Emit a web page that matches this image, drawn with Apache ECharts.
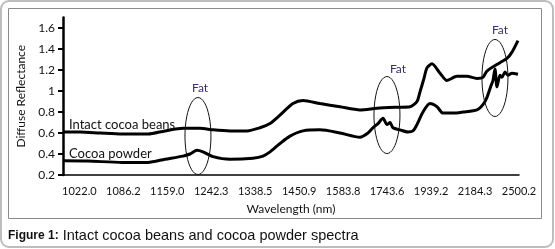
<!DOCTYPE html>
<html>
<head>
<meta charset="utf-8">
<script src="https://cdn.jsdelivr.net/npm/echarts@6/dist/echarts.min.js"></script>
<style>
  html, body { margin: 0; padding: 0; background: #fff; }
  #chart { width: 555px; height: 249px; }
</style>
</head>
<body>
<div id="chart"></div>
<script>
// x positions are wavenumbers (cm-1); the axis is even in wavenumber but labelled in nm
const tickLabelsNm = [1022.0, 1086.2, 1159.0, 1242.3, 1338.5, 1450.9, 1583.8, 1743.6, 1939.2, 2184.3, 2500.2]
const yTicks = [0.2, 0.4, 0.6, 0.8, 1, 1.2, 1.4, 1.6]

// Intact cocoa beans
const beansWn = [10000, 9776, 9513, 9224, 8882, 8658, 8421, 8197, 8026, 7803, 7579, 7408, 7276, 7145, 6974, 6842,
  6618, 6355, 6092, 5868, 5605, 5434, 5342, 5303, 5250, 5211, 5145, 5039, 4947, 4816, 4684, 4553, 4474, 4421,
  4250, 4158, 4092, 4013]
const beansR = [0.61, 0.61, 0.60, 0.59, 0.59, 0.62, 0.645, 0.645, 0.63, 0.62, 0.62, 0.65, 0.69, 0.77, 0.88, 0.91,
  0.88, 0.85, 0.82, 0.835, 0.845, 0.85, 0.90, 0.99, 1.12, 1.22, 1.26, 1.17, 1.10, 1.14, 1.14, 1.12, 1.13, 1.19,
  1.27, 1.31, 1.37, 1.48]

// Cocoa powder
const powderWn = [10000, 9671, 9224, 8882, 8658, 8421, 8329, 8237, 8158, 8026, 7803, 7500, 7368, 7276, 7145, 7013,
  6842, 6618, 6355, 6092, 5987, 5921, 5855, 5789, 5737, 5697, 5658, 5566, 5461, 5395, 5342, 5263, 5171, 5079,
  5000, 4868, 4737, 4553, 4474, 4421, 4368, 4342, 4316, 4289, 4250, 4224, 4184, 4145, 4092, 4013]
const powderR = [0.335, 0.333, 0.32, 0.32, 0.35, 0.38, 0.40, 0.435, 0.42, 0.375, 0.35, 0.36, 0.38, 0.42, 0.50, 0.57,
  0.62, 0.63, 0.60, 0.56, 0.60, 0.65, 0.69, 0.74, 0.68, 0.70, 0.65, 0.63, 0.61, 0.62, 0.68, 0.80, 0.88, 0.85,
  0.79, 0.79, 0.80, 0.82, 0.87, 0.94, 1.05, 1.10, 1.21, 1.04, 1.15, 1.13, 1.18, 1.15, 1.17, 1.16]

// "Fat" ellipses: centre and label position in data units
const fatWn = [8224, 5737, 4316]
const fatR = [0.571, 0.771, 1.124]
const fatLabelWn = [8197, 5592, 4250]
const fatLabelR = [1.029, 1.21, 1.581]

const ELLIPSE_RX = 13
const ELLIPSE_RY = 38.5
const LABEL_FONT = 'Lato'

const chart = echarts.init(document.getElementById('chart'))

function lineSeries(name, xs, ys) {
  return {
    name,
    type: 'line',
    data: xs.map((x, i) => [x, ys[i]]),
    showSymbol: false,
    smooth: 0.25,
    lineStyle: { color: '#000', width: 3 },
    z: 3,
  }
}

function renderFat(params, api) {
  const c = api.coord([api.value(0), api.value(1)])
  const l = api.coord([api.value(2), api.value(3)])
  const pts = []
  for (let k = 0; k < 48; k++) {
    const a = (k / 48) * Math.PI * 2
    pts.push([c[0] + ELLIPSE_RX * Math.cos(a), c[1] + ELLIPSE_RY * Math.sin(a)])
  }
  return {
    type: 'group',
    children: [
      { type: 'polygon', shape: { points: pts }, style: { fill: 'none', stroke: '#111', lineWidth: 1 } },
      {
        type: 'text', x: l[0], y: l[1],
        style: { text: 'Fat', fill: '#3b2d6b', font: '12px ' + LABEL_FONT, align: 'center', verticalAlign: 'middle' },
      },
    ],
  }
}

chart.setOption({
  animation: false,
  grid: { left: 63, right: 36, top: 17.5, bottom: 74 },
  xAxis: {
    type: 'value',
    min: 3999.6,
    max: 10000,
    inverse: true,
    name: 'Wavelength (nm)',
    nameLocation: 'middle',
    nameGap: 28,
    nameTextStyle: { color: '#111', fontFamily: LABEL_FONT, fontSize: 12 },
    axisLine: { lineStyle: { color: '#000', width: 1.5 } },
    axisTick: { show: false },
    splitLine: { show: false },
    axisLabel: {
      customValues: tickLabelsNm.map((nm) => 1e7 / nm),
      formatter: (v) => (1e7 / v).toFixed(1),
      color: '#111',
      fontFamily: LABEL_FONT,
      fontSize: 11,
      margin: 11,
    },
  },
  yAxis: {
    type: 'value',
    min: 0.2,
    max: 1.7,
    name: 'Diffuse Reflectance',
    nameLocation: 'middle',
    nameRotate: 90,
    nameGap: 36,
    nameTextStyle: { color: '#111', fontFamily: LABEL_FONT, fontSize: 12 },
    axisLine: { show: true, lineStyle: { color: '#000', width: 2.5 } },
    axisTick: { show: true, customValues: yTicks, length: 5, lineStyle: { color: '#000', width: 2 } },
    splitLine: { show: false },
    axisLabel: {
      customValues: yTicks,
      formatter: (v) => String(Number(v.toFixed(1))),
      color: '#111',
      fontFamily: LABEL_FONT,
      fontSize: 12,
      margin: 8,
    },
  },
  series: [
    lineSeries('Intact cocoa beans', beansWn, beansR),
    lineSeries('Cocoa powder', powderWn, powderR),
    {
      type: 'custom',
      coordinateSystem: 'cartesian2d',
      data: fatWn.map((w, i) => [w, fatR[i], fatLabelWn[i], fatLabelR[i]]),
      encode: { x: 0, y: 1 },
      renderItem: renderFat,
      z: 4,
      silent: true,
    },
  ],
  graphic: [
    { type: 'rect', shape: { x: 1, y: 1, width: 552, height: 246, r: 8 }, style: { fill: 'none', stroke: '#bdbdbd', lineWidth: 2 }, silent: true },
    { type: 'rect', shape: { x: 8.5, y: 8.5, width: 533, height: 210 }, style: { fill: 'none', stroke: '#8a8a8a', lineWidth: 1 }, silent: true },
    { type: 'text', left: 69, top: 118, style: { text: 'Intact cocoa beans', fill: '#111', font: '13px ' + LABEL_FONT }, z: 10 },
    { type: 'text', left: 69, top: 147, style: { text: 'Cocoa powder', fill: '#111', font: '13px ' + LABEL_FONT }, z: 10 },
    {
      type: 'text', left: 8, top: 228,
      style: {
        text: '{b|Figure 1:} Intact cocoa beans and cocoa powder spectra',
        font: '14.5px "Liberation Sans"',
        fill: '#111',
        rich: { b: { fontWeight: 'bold', font: 'bold 14.5px "Liberation Sans"', fill: '#111' } },
      },
    },
  ],
})
</script>
</body>
</html>
